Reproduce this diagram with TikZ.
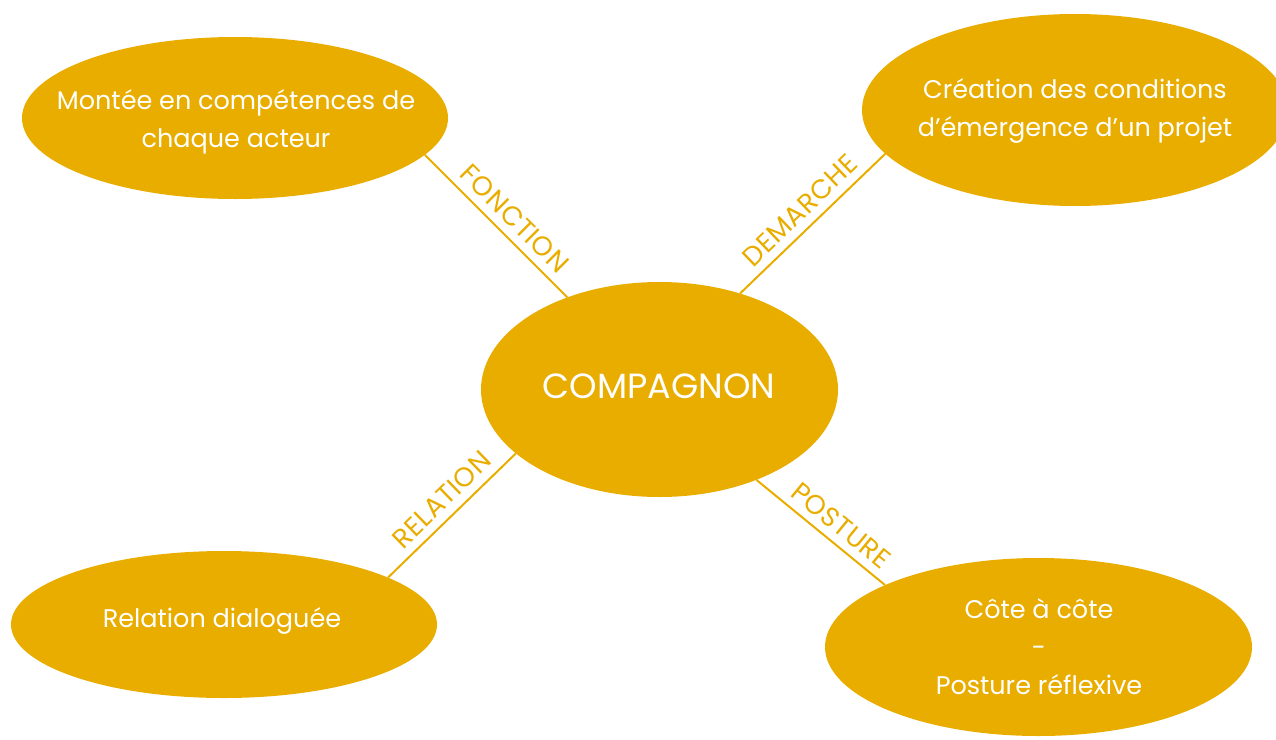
\documentclass[tikz,border=0pt]{standalone}
\usepackage{fontspec}
\setmainfont{Poppins}
\usetikzlibrary{shapes.geometric}
\definecolor{gold}{RGB}{233,173,0}
\begin{document}
\begin{tikzpicture}[x=1pt,y=-1pt,
  bubble/.style={ellipse, fill=gold, inner sep=0pt},
  btext/.style={text=white, align=center, inner sep=0pt, font=\fontsize{25.5}{38}\selectfont},
  link/.style={draw=gold, line width=2pt},
  tag/.style={text=gold, font=\fontsize{27}{27}\selectfont\addfontfeature{LetterSpace=2}, sloped, above=8pt, inner sep=0pt}]
\useasboundingbox (0,0) rectangle (1276,739);
\node[bubble, minimum width=426pt, minimum height=162pt] (tl) at (235,118) {};
\node[bubble, minimum width=426pt, minimum height=192pt] (tr) at (1075,110) {};
\node[bubble, minimum width=357pt, minimum height=215pt] (c) at (659.5,389.5) {};
\node[bubble, minimum width=426pt, minimum height=147pt] (bl) at (224,624.5) {};
\node[bubble, minimum width=427pt, minimum height=178pt] (br) at (1038.5,647) {};
\node[btext] (tlt) at (236,122) {Montée en compétences de\\chaque acteur};
\node[btext] (trt) at (1075,111) {Création des conditions\\d’émergence d’un projet};
\node[btext, anchor=base, font=\fontsize{35}{40}\selectfont] (ct) at (659,398) {COMPAGNON};
\node[btext, anchor=base] (blt) at (222,627) {Relation dialoguée};
\node[btext] (brt) at (1039,647) {Côte à côte\\-\\Posture réflexive};
\draw[link] (tl.-11.8) -- node[tag, pos=0.54] (lf) {FONCTION} (c.135.3);
\draw[link] (c.50.8) -- node[tag, pos=0.5] (ld) {DEMARCHE} (tr.193.2);
\draw[link] (bl.16.8) -- node[tag, pos=0.52] (lr) {RELATION} (c.204.7);
\draw[link] (c.-43.5) -- node[tag, pos=0.57] (lp) {POSTURE} (br.158.1);
\end{tikzpicture}
\end{document}
